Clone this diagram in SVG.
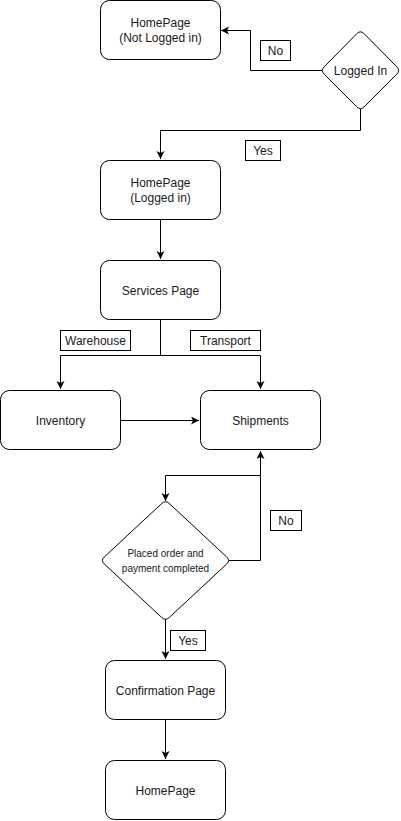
<svg xmlns="http://www.w3.org/2000/svg" width="401" height="821" viewBox="0 0 401 821">
<style>
.box{fill:#fff;stroke:#000;stroke-width:1}
.lbl{fill:#fff;stroke:#000;stroke-width:1}
.edge{fill:none;stroke:#000;stroke-width:1}
text{font-family:"Liberation Sans",Arial,sans-serif;font-size:12px;fill:#1a1a1a;text-anchor:middle}
.small{font-size:10px}
</style>
<defs>
<marker id="arr" markerUnits="userSpaceOnUse" markerWidth="10" markerHeight="10" refX="8" refY="4" orient="auto">
<path d="M0,0 L8,4 L0,8 L2,4 Z" fill="#000"/>
</marker>
</defs>
<rect width="401" height="821" fill="#fff"/>
<g id="connectors">
<path class="edge" d="M322,70.5 H250.5 V30.5 H221" marker-end="url(#arr)"/>
<path class="edge" d="M360.5,109 V130.5 H160.5 V159" marker-end="url(#arr)"/>
<path class="edge" d="M160.5,220 V259" marker-end="url(#arr)"/>
<path class="edge" d="M160.5,320 V355.5 H60.5 V389" marker-end="url(#arr)"/>
<path class="edge" d="M160.5,355.5 H260.5 V389" marker-end="url(#arr)"/>
<path class="edge" d="M120,420.5 H199" marker-end="url(#arr)"/>
<path class="edge" d="M260.5,451 V475.5 H165.5 V501" marker-end="url(#arr)"/>
<path class="edge" d="M229,560.5 H260.5 V451" marker-end="url(#arr)"/>
<path class="edge" d="M165.5,619 V659" marker-end="url(#arr)"/>
<path class="edge" d="M165.5,720 V759" marker-end="url(#arr)"/>
<g id="label-no1"><rect class="lbl" x="260.5" y="40.5" width="30" height="20"/><text x="275.5" y="54.5">No</text></g>
<g id="label-yes1"><rect class="lbl" x="245.5" y="140.5" width="35" height="20"/><text x="263" y="154.5">Yes</text></g>
<g id="label-warehouse"><rect class="lbl" x="60.5" y="330.5" width="70" height="20"/><text x="95.5" y="344.5">Warehouse</text></g>
<g id="label-transport"><rect class="lbl" x="190.5" y="330.5" width="70" height="20"/><text x="225.5" y="344.5">Transport</text></g>
<g id="label-no2"><rect class="lbl" x="270.5" y="510.5" width="31" height="20"/><text x="286" y="524.5">No</text></g>
<g id="label-yes2"><rect class="lbl" x="170.5" y="630.5" width="35" height="20"/><text x="188" y="644.5">Yes</text></g>
</g>
<g id="home-not-logged">
<rect class="box" x="100.5" y="0.5" width="120" height="59" rx="9"/>
<text x="160.5" y="27">HomePage</text>
<text x="160.5" y="42">(Not Logged in)</text>
</g>
<g id="logged-in">
<path class="box" d="M356.8,33.7 Q360.5,30 364.2,33.7 L396.8,66.8 Q400.5,70.5 396.8,74.2 L364.2,106.8 Q360.5,110.5 356.8,106.8 L324.2,74.2 Q320.5,70.5 324.2,66.8 Z"/>
<text x="360.5" y="74.5">Logged In</text>
</g>
<g id="home-logged">
<rect class="box" x="100.5" y="160.5" width="120" height="59" rx="9"/>
<text x="160.5" y="187">HomePage</text>
<text x="160.5" y="202">(Logged in)</text>
</g>
<g id="services">
<rect class="box" x="100.5" y="260.5" width="120" height="59" rx="9"/>
<text x="160.5" y="294.5">Services Page</text>
</g>
<g id="inventory">
<rect class="box" x="0.5" y="390.5" width="120" height="59" rx="9"/>
<text x="60.5" y="424.5">Inventory</text>
</g>
<g id="shipments">
<rect class="box" x="200.5" y="390.5" width="120" height="59" rx="9"/>
<text x="260.5" y="424.5">Shipments</text>
</g>
<g id="placed-order">
<path class="box" d="M161.6,503.6 Q165.5,500 169.4,503.6 L226.6,556.9 Q230.5,560.5 226.6,564.1 L169.4,617.4 Q165.5,621 161.6,617.4 L104.4,564.1 Q100.5,560.5 104.4,556.9 Z"/>
<text class="small" x="165.5" y="556.5">Placed order and</text>
<text class="small" x="165.5" y="571.5">payment completed</text>
</g>
<g id="confirmation">
<rect class="box" x="105.5" y="660.5" width="120" height="59" rx="9"/>
<text x="165.5" y="694.5">Confirmation Page</text>
</g>
<g id="home-final">
<rect class="box" x="105.5" y="760.5" width="120" height="59" rx="9"/>
<text x="165.5" y="794.5">HomePage</text>
</g>
</svg>
